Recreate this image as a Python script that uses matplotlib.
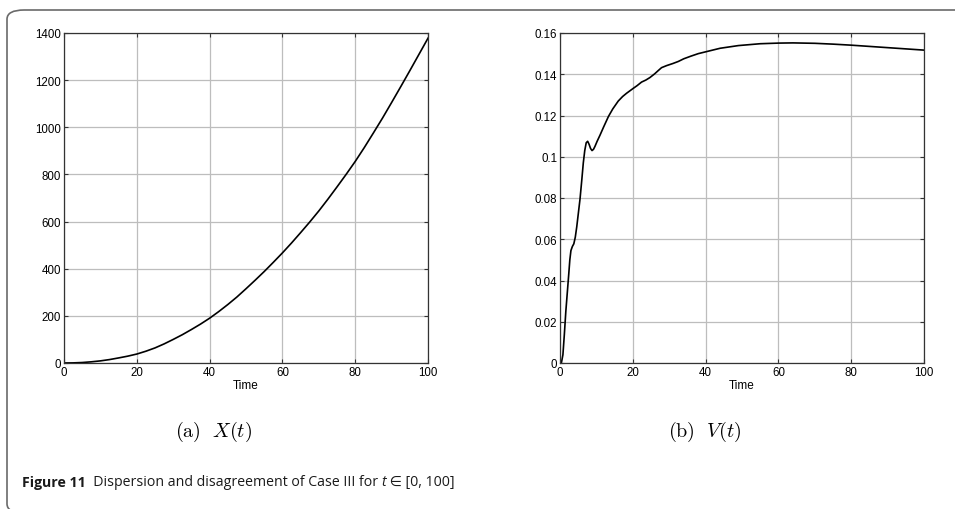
import matplotlib.pyplot as plt
from matplotlib.patches import FancyBboxPatch

# X(t)
t_x = [0, 2.5, 5, 7.5, 10, 12.5, 15, 17.5, 20, 22.5, 25, 27.5, 30, 32.5, 35, 37.5, 40,
       42.5, 45, 47.5, 50, 52.5, 55, 57.5, 60, 62.5, 65, 67.5, 70, 72.5, 75, 77.5, 80,
       82.5, 85, 87.5, 90, 92.5, 95, 97.5, 100]
x_vals = [0, 0.5, 2, 5, 9, 14.5, 21.5, 29, 38, 50, 64, 81, 100, 120, 142, 165, 190,
          218, 248, 280, 315, 351, 388, 427, 467, 509, 553, 598, 645, 695, 747, 800, 855,
          914, 976, 1039, 1105, 1172, 1240, 1309, 1378]

# V(t)
t_v = [0, 0.4, 0.8, 1.2, 1.6, 2.0, 2.4, 2.7, 3.0, 3.4, 3.8, 4.2, 4.6, 5.0, 5.5, 6.0, 6.4, 6.8,
       7.2, 7.6, 8.0, 8.4, 8.8, 9.2, 9.6, 10.2, 11, 12, 13.3, 14.5, 16, 17.2, 18.3, 20, 21.2,
       22.4, 23.6, 24.7, 26, 27, 27.9, 29.3, 31, 32.5, 34, 36, 38, 40.3, 44, 49, 55, 60, 64,
       70, 75, 80, 85, 90, 95, 100]
v_vals = [0, 0.0002, 0.004, 0.014, 0.025, 0.034, 0.043, 0.050, 0.0545, 0.0565, 0.0578, 0.061,
          0.066, 0.072, 0.0795, 0.089, 0.097, 0.103, 0.1068, 0.1075, 0.1060, 0.1040, 0.1030,
          0.1036, 0.1050, 0.1075, 0.1105, 0.1145, 0.1195, 0.1232, 0.127, 0.1292, 0.1308, 0.133,
          0.1345, 0.1362, 0.1372, 0.1384, 0.1402, 0.1418, 0.1432, 0.1442, 0.1452, 0.1462,
          0.1475, 0.1488, 0.150, 0.151, 0.1526, 0.1539, 0.1548, 0.1551, 0.1552, 0.1550,
          0.1546, 0.1541, 0.1535, 0.1529, 0.1523, 0.1517]

x_ticks = [0, 20, 40, 60, 80, 100]
x_yticks = [0, 200, 400, 600, 800, 1000, 1200, 1400]
v_yticks = [0, 0.02, 0.04, 0.06, 0.08, 0.1, 0.12, 0.14, 0.16]
v_yticklabels = ['0', '0.02', '0.04', '0.06', '0.08', '0.1', '0.12', '0.14', '0.16']

plt.rcParams['font.family'] = ['Liberation Sans', 'DejaVu Sans']

fig = plt.figure(figsize=(9.55, 5.1), dpi=100)
W, H = 955, 510

# journal frame: left and top edges with rounded corners, bottom just off the canvas
frame = FancyBboxPatch((7 / W, -4 / H), 1.2, (H - 7) / H,
                       boxstyle='round,pad=0,rounding_size=0.018',
                       transform=fig.transFigure, fill=False,
                       edgecolor='#6a6a6a', linewidth=1.2, clip_on=False)
fig.patches.append(frame)


def style_axes(ax):
    ax.set_xlim(0, 100)
    ax.set_xticks(x_ticks)
    ax.grid(True, color='#bdbdbd', linewidth=0.9)
    ax.set_axisbelow(True)
    ax.tick_params(direction='in', top=True, right=True, length=3,
                   labelsize=8.3, color='#333333', pad=2)
    for s in ax.spines.values():
        s.set_color('#333333')
        s.set_linewidth(0.9)
    ax.set_xlabel('Time', fontsize=8.5, labelpad=1)


ax1 = fig.add_axes([64 / W, 1 - 364 / H, 364 / W, 330 / H])
ax1.plot(t_x, x_vals, color='black', linewidth=1.2)
ax1.set_ylim(0, 1400)
ax1.set_yticks(x_yticks)
style_axes(ax1)

ax2 = fig.add_axes([560 / W, 1 - 364 / H, 364 / W, 330 / H])
ax2.plot(t_v, v_vals, color='black', linewidth=1.2)
ax2.set_ylim(0, 0.16)
ax2.set_yticks(v_yticks)
ax2.set_yticklabels(v_yticklabels)
style_axes(ax2)

fig.text(214 / W, 1 - 432 / H, r'$\mathrm{(a)}\ \ X(t)$', fontsize=14.5, math_fontfamily='cm',
         ha='center', va='center')
fig.text(705 / W, 1 - 432 / H, r'$\mathrm{(b)}\ \ V(t)$', fontsize=14.5, math_fontfamily='cm',
         ha='center', va='center')

# caption, built piece by piece so the italic t and the element sign can use fallbacks
cap_font = ['Open Sans', 'DejaVu Sans']
cap_size = 10.2
c1 = fig.text(22 / W, 1 - 487 / H, 'Figure 11', fontsize=cap_size, fontweight='bold',
              family=cap_font, color='#1a1a1a', ha='left', va='baseline')
c2 = ax1.annotate('  Dispersion and disagreement of Case III for ', xy=(1, 0), xycoords=c1,
                  fontsize=cap_size, family=cap_font, color='#1a1a1a', ha='left', va='bottom',
                  annotation_clip=False)
c3 = ax1.annotate('t', xy=(1, 0), xycoords=c2, fontsize=cap_size, family=cap_font,
                  style='italic', color='#1a1a1a', ha='left', va='bottom',
                  annotation_clip=False)
ax1.annotate(' \u2208 [0, 100]', xy=(1, 0), xycoords=c3, fontsize=cap_size, family=cap_font,
             color='#1a1a1a', ha='left', va='bottom', annotation_clip=False)

fig.savefig('out.png', dpi=100)
